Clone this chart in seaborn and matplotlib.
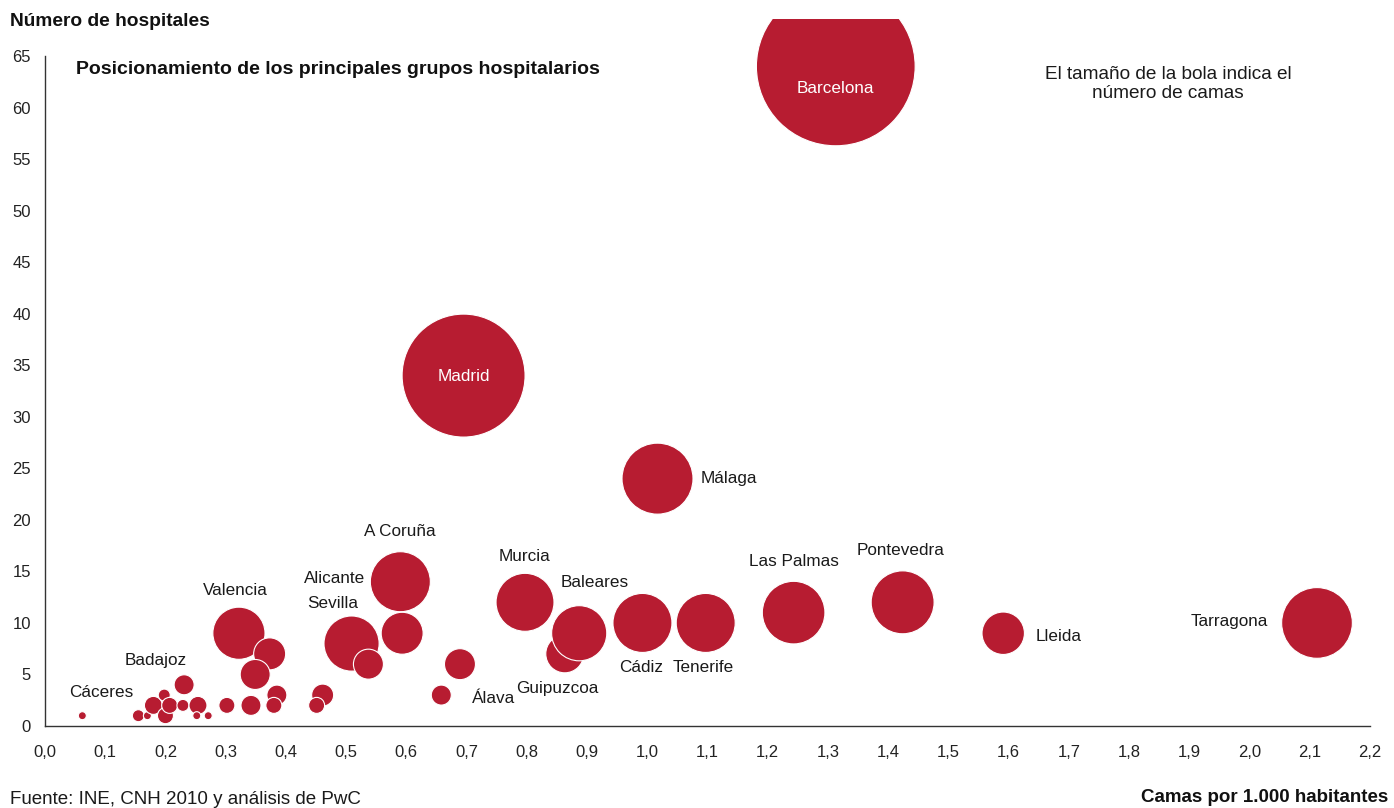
import pandas as pd
import matplotlib.pyplot as plt
import seaborn as sns

# camas por 1.000 habitantes (eje x)
camas_hab = [0.062, 0.155, 0.170, 0.180, 0.198, 0.200, 0.207, 0.229, 0.231, 0.254,
             0.252, 0.271, 0.302, 0.342, 0.385, 0.380, 0.461, 0.451, 0.322, 0.373,
             0.349, 0.509, 0.537, 0.590, 0.593, 0.658, 0.689, 0.695, 0.797, 0.863,
             0.887, 0.992, 1.017, 1.097, 1.243, 1.313, 1.424, 1.591, 2.112]
# numero de hospitales (eje y)
hospitales = [1, 1, 1, 2, 3, 1, 2, 2, 4, 2,
              1, 1, 2, 2, 3, 2, 3, 2, 9, 7,
              5, 8, 6, 14, 9, 3, 6, 34, 12, 7,
              9, 10, 24, 10, 11, 64, 12, 9, 10]
# numero de camas (tamano de la bola)
camas = [16, 36, 16, 81, 36, 64, 64, 36, 100, 81,
         16, 16, 64, 100, 100, 64, 121, 64, 680, 256,
         225, 760, 225, 900, 440, 100, 240, 3780, 840, 360,
         760, 870, 1260, 870, 980, 6300, 990, 450, 1250]
nombres = ["Cáceres", "", "", "", "", "", "", "", "Badajoz", "",
           "", "", "", "", "", "", "", "", "Valencia", "",
           "", "Sevilla", "Alicante", "A Coruña", "", "Álava", "", "Madrid", "Murcia", "Guipuzcoa",
           "Baleares", "Cádiz", "Málaga", "Tenerife", "Las Palmas", "Barcelona", "Pontevedra", "Lleida", "Tarragona"]

# posicion de cada etiqueta respecto a su bola (pixeles)
etiquetas = {
    "Cáceres": (19, 23, "center"), "Badajoz": (-28, 24, "center"),
    "Valencia": (-4, 43, "center"), "Sevilla": (-19, 40, "center"),
    "Alicante": (-34, 86, "center"), "A Coruña": (-1, 50, "center"),
    "Álava": (52, -3, "center"), "Madrid": (0, -1, "center"),
    "Murcia": (-1, 46, "center"), "Guipuzcoa": (-7, -35, "center"),
    "Baleares": (15, 51, "center"), "Cádiz": (-1, -45, "center"),
    "Málaga": (43, 0, "left"), "Tenerife": (-2, -45, "center"),
    "Las Palmas": (0, 51, "center"), "Barcelona": (0, -22, "center"),
    "Pontevedra": (-2, 52, "center"), "Lleida": (32, -3, "left"),
    "Tarragona": (-49, 1, "right"),
}

df = pd.DataFrame({"x": camas_hab, "y": hospitales, "camas": camas, "nombre": nombres})

sns.set_theme(style="white")
plt.rcParams["font.family"] = ["Liberation Sans", "DejaVu Sans"]

rojo = "#b71c31"
fig = plt.figure(figsize=(13.94, 8.08), dpi=100)
ax = fig.add_axes([45 / 1394, 82 / 808, 1325 / 1394, 707 / 808])

# s = (1.44 * r_px)^2, camas ~ r_px^2
max_c = max(camas)
sns.scatterplot(data=df, x="x", y="y", size="camas", sizes=(0, 2.0736 * max_c),
                size_norm=(0, max_c), color=rojo, edgecolor="white", linewidth=0.8,
                alpha=1, legend=False, ax=ax)

ax.set_xlim(0, 2.2)
ax.set_ylim(0, 68.6)
ax.set_xlabel("")
ax.set_ylabel("")

for sp in ["top", "right"]:
    ax.spines[sp].set_visible(False)
for sp in ["left", "bottom"]:
    ax.spines[sp].set_color("#333333")
    ax.spines[sp].set_linewidth(1.0)
ax.spines["left"].set_bounds(0, 65)
ax.spines["bottom"].set_bounds(0, 2.2)

xt = [i / 10 for i in range(23)]
ax.set_xticks(xt)
ax.set_xticklabels([f"{v:.1f}".replace(".", ",") for v in xt])
ax.set_yticks(range(0, 66, 5))
ax.tick_params(axis="both", direction="out", length=5, width=1, color="#333333",
               labelsize=12, labelcolor="#222222", pad=5)
ax.tick_params(axis="x", pad=9)
ax.set_yticks([1], minor=True)
ax.tick_params(axis="y", which="minor", direction="in", length=3, width=1, color="#333333")

for _, row in df.iterrows():
    if row["nombre"] in etiquetas:
        dx, dy, ha = etiquetas[row["nombre"]]
        col = "white" if row["nombre"] in ("Barcelona", "Madrid") else "#1a1a1a"
        ax.annotate(row["nombre"], (row["x"], row["y"]), xytext=(dx, dy),
                    textcoords="offset pixels", ha=ha, va="center",
                    fontsize=12.3, color=col)

fig.text(10 / 1394, 1 - 21 / 808, "Número de hospitales", fontsize=13.8,
         fontweight="bold", va="center", ha="left", color="#111111")
fig.text(76 / 1394, 1 - 69 / 808, "Posicionamiento de los principales grupos hospitalarios",
         fontsize=14, fontweight="bold", va="center", ha="left", color="#111111")
fig.text(1168 / 1394, 1 - 84 / 808, "El tamaño de la bola indica el\nnúmero de camas",
         fontsize=13.7, va="center", ha="center", color="#1a1a1a", linespacing=1.1)
fig.text(10 / 1394, 1 - 800 / 808, "Fuente: INE, CNH 2010 y análisis de PwC",
         fontsize=13.5, va="center", ha="left", color="#1a1a1a")
fig.text(1141 / 1394, 1 - 797 / 808, "Camas por 1.000 habitantes", fontsize=13.5,
         fontweight="bold", va="center", ha="left", color="#111111")

fig.savefig("out.png", dpi=100)
